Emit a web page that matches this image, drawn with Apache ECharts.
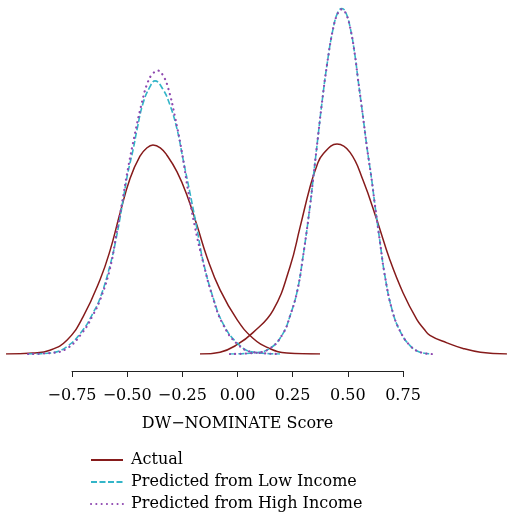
<!DOCTYPE html>
<html>
<head>
<meta charset="utf-8">
<script src="https://cdn.jsdelivr.net/npm/echarts@6/dist/echarts.min.js"></script>
<style>
  html, body { margin: 0; padding: 0; background: #fff; }
  #chart { width: 507px; height: 515px; }
</style>
</head>
<body>
<div id="chart"></div>
<script>
// 数据：密度曲线点 [DW-NOMINATE, density]
const xTicks = [-0.75, -0.5, -0.25, 0, 0.25, 0.5, 0.75];
const seriesNames = ['Actual', 'Predicted from Low Income', 'Predicted from High Income'];

// 民主党（左峰）
const demActual = [
  [-1.049, 0], [-0.927, 0.01], [-0.850, 0.04], [-0.772, 0.15], [-0.700, 0.40],
  [-0.623, 0.80], [-0.578, 1.11], [-0.533, 1.51], [-0.487, 1.89], [-0.442, 2.13],
  [-0.410, 2.22], [-0.383, 2.25], [-0.350, 2.22], [-0.320, 2.14], [-0.274, 1.96],
  [-0.229, 1.71], [-0.183, 1.38], [-0.138, 1.04], [-0.079, 0.69], [-0.002, 0.37],
  [0.070, 0.17], [0.145, 0.06], [0.224, 0.01], [0.374, 0]
];
const demLow = [
  [-0.949, 0], [-0.850, 0.01], [-0.773, 0.08], [-0.700, 0.26], [-0.655, 0.44],
  [-0.623, 0.60], [-0.578, 0.95], [-0.546, 1.29], [-0.514, 1.72], [-0.496, 1.96],
  [-0.473, 2.20], [-0.455, 2.42], [-0.428, 2.70], [-0.396, 2.88], [-0.374, 2.94],
  [-0.338, 2.85], [-0.306, 2.68], [-0.274, 2.42], [-0.247, 2.10], [-0.215, 1.73],
  [-0.183, 1.34], [-0.156, 1.00], [-0.111, 0.61], [-0.066, 0.33], [-0.002, 0.12],
  [0.070, 0.02], [0.193, 0]
];
const demHigh = [
  [-0.949, 0], [-0.850, 0.01], [-0.773, 0.06], [-0.700, 0.24], [-0.655, 0.42],
  [-0.623, 0.58], [-0.578, 0.92], [-0.546, 1.33], [-0.523, 1.63], [-0.496, 2.00],
  [-0.464, 2.38], [-0.433, 2.71], [-0.406, 2.93], [-0.383, 3.02], [-0.360, 3.05],
  [-0.338, 3.00], [-0.315, 2.87], [-0.283, 2.55], [-0.251, 2.16], [-0.224, 1.76],
  [-0.193, 1.37], [-0.156, 0.99], [-0.111, 0.60], [-0.066, 0.32], [-0.002, 0.11],
  [0.070, 0.02], [0.193, 0]
];

// 共和党（右峰）
const repActual = [
  [-0.170, 0], [-0.079, 0.02], [-0.002, 0.10], [0.070, 0.23], [0.161, 0.47],
  [0.238, 0.94], [0.283, 1.36], [0.329, 1.80], [0.360, 2.03], [0.387, 2.15],
  [0.451, 2.26], [0.510, 2.17], [0.569, 1.87], [0.632, 1.44], [0.691, 1.01],
  [0.750, 0.66], [0.813, 0.37], [0.845, 0.27], [0.872, 0.20], [0.949, 0.12],
  [1.022, 0.06], [1.101, 0.02], [1.221, 0]
];
const repLow = [
  [-0.034, 0], [0.070, 0.01], [0.147, 0.06], [0.206, 0.22], [0.238, 0.41],
  [0.270, 0.67], [0.297, 1.05], [0.329, 1.60], [0.342, 1.87], [0.360, 2.24],
  [0.383, 2.71], [0.406, 3.12], [0.433, 3.50], [0.455, 3.68], [0.473, 3.72],
  [0.490, 3.68], [0.510, 3.52], [0.532, 3.22], [0.546, 2.96], [0.569, 2.55],
  [0.587, 2.22], [0.609, 1.86], [0.623, 1.60], [0.646, 1.20], [0.668, 0.84],
  [0.700, 0.48], [0.736, 0.25], [0.782, 0.09], [0.827, 0.02], [0.881, 0]
];
const repHigh = [
  [-0.034, 0], [0.070, 0.01], [0.147, 0.06], [0.206, 0.22], [0.238, 0.41],
  [0.270, 0.67], [0.297, 1.05], [0.329, 1.60], [0.342, 1.87], [0.360, 2.24],
  [0.383, 2.71], [0.406, 3.12], [0.433, 3.50], [0.455, 3.67], [0.473, 3.71],
  [0.490, 3.67], [0.510, 3.52], [0.532, 3.22], [0.546, 2.96], [0.569, 2.55],
  [0.587, 2.22], [0.609, 1.86], [0.623, 1.60], [0.646, 1.20], [0.668, 0.84],
  [0.700, 0.48], [0.736, 0.25], [0.782, 0.09], [0.827, 0.02], [0.881, 0]
];

const COLORS = ['#861b1b', '#33b5c8', '#8e48b0'];
const FONT = '"DejaVu Serif", serif';

// 坐标轴只画 -0.75..0.75，曲线画在整宽的第二个 grid 里
const AXIS_LEFT = 72, AXIS_RIGHT = 403, W = 507;
const pxPerUnit = (AXIS_RIGHT - AXIS_LEFT) / 1.5;
const fullMin = -0.75 - AXIS_LEFT / pxPerUnit;
const fullMax = 0.75 + (W - AXIS_RIGHT) / pxPerUnit;

const styles = [
  { color: COLORS[0], width: 1.5, type: 'solid' },
  { color: COLORS[1], width: 1.6, type: [6, 2.5] },
  { color: COLORS[2], width: 2.2, type: [0.1, 5.2], cap: 'round' },
];

function curve(name, data, idx) {
  return {
    name: name,
    type: 'line',
    xAxisIndex: 1,
    yAxisIndex: 1,
    data: data,
    smooth: 0.45,
    symbol: 'none',
    lineStyle: styles[idx],
    itemStyle: { color: styles[idx].color },
    z: 2,
  };
}

const chart = echarts.init(document.getElementById('chart'));
chart.setOption({
  animation: false,
  backgroundColor: '#fff',
  grid: [
    { left: AXIS_LEFT, right: W - AXIS_RIGHT, top: 1, bottom: 144 },
    { left: 0, right: 0, top: 1, bottom: 161 },
  ],
  legend: {
    orient: 'vertical',
    left: 90,
    top: 452,
    padding: 0,
    itemWidth: 32,
    itemHeight: 16,
    itemGap: 6,
    icon: 'inherit',
    itemStyle: { opacity: 0 },
    data: seriesNames,
    textStyle: { fontFamily: FONT, fontSize: 16, color: '#000', lineHeight: 16, padding: [0, 0, 0, 3] },
  },
  xAxis: [{
    type: 'value',
    gridIndex: 0,
    min: xTicks[0],
    max: xTicks[xTicks.length - 1],
    interval: 0.25,
    name: 'DW\u2212NOMINATE Score',
    nameLocation: 'middle',
    nameGap: 45,
    nameTextStyle: { fontFamily: FONT, fontSize: 16, color: '#000' },
    axisLine: { show: true, lineStyle: { color: '#222', width: 1 } },
    axisTick: { show: true, length: 6, lineStyle: { color: '#222' } },
    axisLabel: {
      margin: 17,
      fontFamily: FONT,
      fontSize: 16,
      color: '#000',
      formatter: v => v.toFixed(2).replace('-', '\u2212'),
    },
    splitLine: { show: false },
  }, {
    type: 'value',
    gridIndex: 1,
    min: fullMin,
    max: fullMax,
    show: false,
  }],
  yAxis: [
    { type: 'value', gridIndex: 0, min: 0, max: 1, show: false },
    { type: 'value', gridIndex: 1, min: 0, max: 3.8, show: false },
  ],
  series: [
    curve(seriesNames[0], demActual, 0),
    curve(seriesNames[0], repActual, 0),
    curve(seriesNames[1], demLow, 1),
    curve(seriesNames[1], repLow, 1),
    curve(seriesNames[2], demHigh, 2),
    curve(seriesNames[2], repHigh, 2),
  ],
});
</script>
</body>
</html>
